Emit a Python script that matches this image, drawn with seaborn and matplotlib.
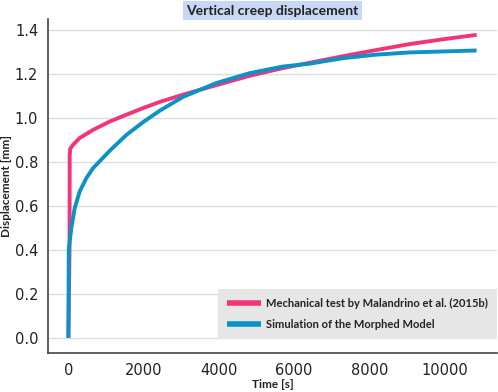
import numpy as np
import pandas as pd
import matplotlib
matplotlib.use("Agg")
import matplotlib.pyplot as plt
import seaborn as sns

# Data
test_time = [0, 30, 35, 50, 123, 300, 655, 1098, 1541, 1984, 2426, 3046, 3490,
             4820, 5705, 6413, 7298, 8184, 9070, 9960, 10850]
test_disp = [0.0, 0.40, 0.83, 0.86, 0.877, 0.908, 0.945, 0.983, 1.014, 1.044, 1.072,
             1.105, 1.127, 1.191, 1.226, 1.250, 1.280, 1.308, 1.335, 1.357, 1.377]

sim_time = [0, 10, 35, 78, 167, 300, 478, 655, 1098, 1541, 1984, 2426, 3046, 3933,
            4820, 5705, 6413, 7298, 8184, 9070, 10850]
sim_disp = [0.0, 0.40, 0.44, 0.498, 0.589, 0.665, 0.726, 0.771, 0.850, 0.922, 0.980,
            1.032, 1.095, 1.158, 1.203, 1.233, 1.246, 1.271, 1.287, 1.297, 1.306]

label_test = "Mechanical test by Malandrino et al. (2015b)"
label_sim = "Simulation of the Morphed Model"
title = "Vertical creep displacement"
xlabel = "Time [s]"
ylabel = "Displacement [mm]"

df = pd.concat([
    pd.DataFrame({"Time": test_time, "Disp": test_disp, "Series": label_test}),
    pd.DataFrame({"Time": sim_time, "Disp": sim_disp, "Series": label_sim}),
], ignore_index=True)

sns.set_style("whitegrid")
plt.rcParams["font.family"] = ["DejaVu Sans"]

fig = plt.figure(figsize=(4.98, 3.92), dpi=100)
ax = fig.add_axes([48/498, 39/392, 449/498, 334/392])

palette = {label_test: "#F2357B", label_sim: "#0A93C4"}
sns.lineplot(data=df, x="Time", y="Disp", hue="Series", palette=palette,
             linewidth=2.8, ax=ax, sort=False, estimator=None)
for ln in ax.get_lines():
    ln.set_solid_joinstyle("round")
    ln.set_solid_capstyle("butt")

ax.set_xlim(-542, 11392)
ax.set_ylim(-0.069, 1.449)
ax.set_xticks([0, 2000, 4000, 6000, 8000, 10000])
ax.set_yticks([0.0, 0.2, 0.4, 0.6, 0.8, 1.0, 1.2, 1.4])
ax.set_yticklabels(["0.0", "0.2", "0.4", "0.6", "0.8", "1.0", "1.2", "1.4"])
ax.tick_params(axis="both", labelsize=10.5, length=0, pad=7, colors="#222222")
ax.grid(axis="x", visible=False)
ax.grid(axis="y", color="#dddddd", linewidth=1.0)

for s in ["top", "right"]:
    ax.spines[s].set_visible(False)
for s in ["left", "bottom"]:
    ax.spines[s].set_visible(True)
    ax.spines[s].set_color("#444444")
    ax.spines[s].set_linewidth(1.2)

lab_font = dict(family=["Lato", "DejaVu Sans"], fontweight="bold",
                fontstyle="normal", color="#222222")
ax.set_xlabel(xlabel, fontsize=8.5, labelpad=1, **lab_font)
ax.set_ylabel(ylabel, fontsize=8.5, labelpad=2, **lab_font)

ax.set_title(title, fontsize=10, pad=3, **lab_font,
             bbox=dict(facecolor="#c8d7f5", edgecolor="none", pad=2.5))

leg = ax.legend(loc="lower right", bbox_to_anchor=(1.0, 14/334), borderaxespad=0,
                frameon=True, handlelength=3.0, handletextpad=0.5,
                borderpad=0.8, labelspacing=0.9, fancybox=False,
                prop=dict(family=["Lato", "DejaVu Sans"], weight="bold",
                          style="normal", size=8))
leg.get_frame().set_facecolor("#e6e6e6")
leg.get_frame().set_edgecolor("none")
leg.get_frame().set_alpha(1)
for t in leg.get_texts():
    t.set_color("#222222")
for l in leg.get_lines():
    l.set_linewidth(4)

fig.savefig("out.png", dpi=100)
